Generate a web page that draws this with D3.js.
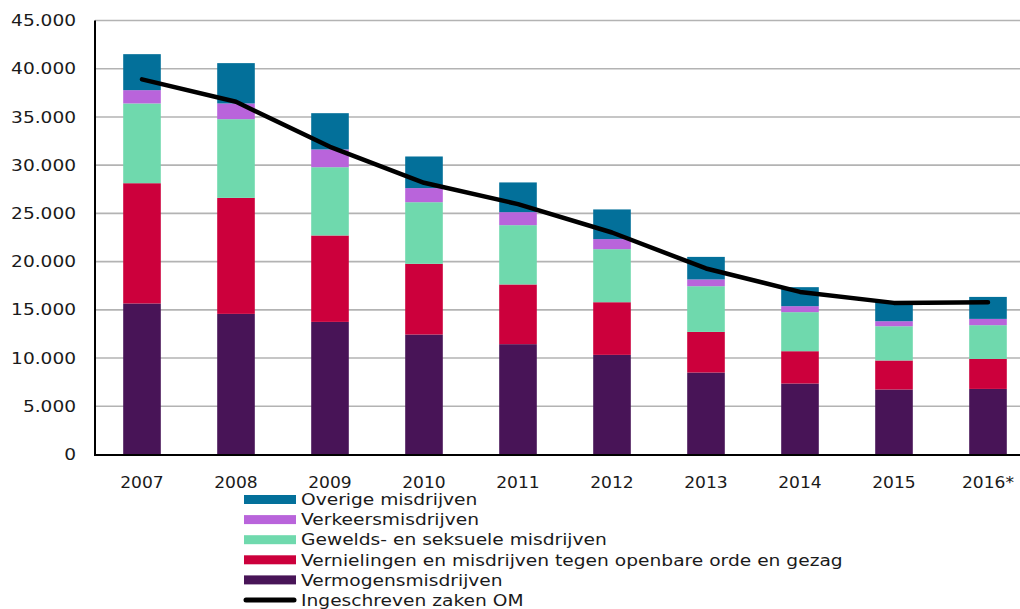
<!DOCTYPE html>
<html>
<head>
<meta charset="utf-8">
<script src="https://cdn.jsdelivr.net/npm/d3@7"></script>
<style>
  body { margin: 0; background: #fff; }
  svg { display: block; font-family: "DejaVu Sans", Verdana, sans-serif; }
</style>
</head>
<body>
<svg id="chart" width="1020" height="609"></svg>
<script>
// jaren (categorieen)
const years = ['2007', '2008', '2009', '2010', '2011', '2012', '2013', '2014', '2015', '2016*']

// series
const vermogens = [15660, 14580, 13750, 12440, 11440, 10330, 8500, 7360, 6740, 6800]
const vernielingen = [12470, 12030, 8960, 7330, 6190, 5460, 4210, 3350, 3010, 3110]
const gewelds = [8270, 8160, 7080, 6390, 6150, 5500, 4740, 4050, 3550, 3500]
const verkeers = [1380, 1630, 1840, 1460, 1350, 1040, 700, 620, 520, 650]
const overige = [3730, 4180, 3760, 3280, 3080, 3080, 2340, 1970, 2080, 2280]
const ingeschreven = [38900, 36570, 31900, 28170, 25960, 23020, 19290, 16860, 15720, 15790]

const yTicks = [0, 5000, 10000, 15000, 20000, 25000, 30000, 35000, 40000, 45000]

const seriesNames = ['Vermogensmisdrijven', 'Vernielingen en misdrijven tegen openbare orde en gezag',
    'Gewelds- en seksuele misdrijven', 'Verkeersmisdrijven', 'Overige misdrijven']
const seriesColors = ['#481457', '#cc003c', '#6fd9ad', '#b964db', '#03709a']
const lineName = 'Ingeschreven zaken OM'

const svg = d3.select('#chart')

const plotLeft = 95, plotRight = 1035, plotTop = 20.5, plotBottom = 454.5

let x = d3.scaleBand().domain(years).range([plotLeft, plotRight]).paddingInner(0.6).paddingOuter(0.3)
let y = d3.scaleLinear().domain([0, 45000]).range([plotBottom, plotTop])

// tabel voor d3.stack
let rows = years.map(function (yr, i) {
    return { year: yr, s0: vermogens[i], s1: vernielingen[i], s2: gewelds[i], s3: verkeers[i], s4: overige[i] }
})
let stacked = d3.stack().keys(['s0', 's1', 's2', 's3', 's4'])(rows)

// gridlijnen
svg.append('g')
    .selectAll('line')
    .data(yTicks.slice(1))
    .join('line')
    .attr('x1', plotLeft).attr('x2', 1020)
    .attr('y1', d => y(d)).attr('y2', d => y(d))
    .style('stroke', '#b3b3b3')
    .attr('stroke-width', 1.6)

// y as labels (tekst in het origineel is breed, vandaar scale)
let fmt = d3.formatLocale({ decimal: ',', thousands: '.', grouping: [3], currency: ['€', ''] }).format(',')
svg.append('g')
    .selectAll('text')
    .data(yTicks)
    .join('text')
    .attr('transform', d => 'translate(76,' + y(d) + ') scale(1.16,1)')
    .attr('dy', '0.35em')
    .attr('text-anchor', 'end')
    .style('font-size', '16px')
    .style('fill', '#1a1a1a')
    .text(d => fmt(d))

// gestapelde staven
svg.append('g')
    .selectAll('g')
    .data(stacked)
    .join('g')
    .style('fill', (d, i) => seriesColors[i])
    .selectAll('rect')
    .data(d => d)
    .join('rect')
    .attr('x', d => x(d.data.year))
    .attr('width', x.bandwidth())
    .attr('y', d => y(d[1]))
    .attr('height', d => y(d[0]) - y(d[1]))

// assen
svg.append('line')
    .attr('x1', plotLeft).attr('x2', plotLeft)
    .attr('y1', plotTop).attr('y2', plotBottom + 1)
    .style('stroke', '#000').attr('stroke-width', 2)
svg.append('line')
    .attr('x1', plotLeft - 1).attr('x2', 1020)
    .attr('y1', plotBottom + 0.5).attr('y2', plotBottom + 0.5)
    .style('stroke', '#000').attr('stroke-width', 2)

// x labels
svg.append('g')
    .selectAll('text')
    .data(years)
    .join('text')
    .attr('transform', d => 'translate(' + (x(d) + x.bandwidth() / 2) + ',482) scale(1.07,1)')
    .attr('dy', '0.35em')
    .attr('text-anchor', 'middle')
    .style('font-size', '16px')
    .style('fill', '#1a1a1a')
    .text(d => d)

// lijn ingeschreven zaken
let lineGenerator = d3.line()
    .x((d, i) => x(years[i]) + x.bandwidth() / 2)
    .y(d => y(d))
svg.append('path')
    .attr('d', lineGenerator(ingeschreven))
    .style('fill', 'none')
    .style('stroke', '#000')
    .attr('stroke-width', 4.5)
    .attr('stroke-linecap', 'round')
    .attr('stroke-linejoin', 'round')

// legenda
let legendItems = seriesNames.map((n, i) => ({ name: n, color: seriesColors[i] })).reverse()
legendItems.push({ name: lineName, color: '#000', line: true })

let legend = svg.append('g')
let item = legend.selectAll('g')
    .data(legendItems)
    .join('g')
    .attr('transform', (d, i) => 'translate(0,' + (499.5 + i * 20.1) + ')')

item.filter(d => !d.line).append('rect')
    .attr('x', 244).attr('y', -4.5)
    .attr('width', 52).attr('height', 9)
    .style('fill', d => d.color)
item.filter(d => d.line).append('line')
    .attr('x1', 246).attr('x2', 294)
    .attr('y1', 0).attr('y2', 0)
    .style('stroke', '#000')
    .attr('stroke-width', 5)
    .attr('stroke-linecap', 'round')
item.append('text')
    .attr('transform', 'translate(301,0) scale(1.13,1)')
    .attr('dy', '0.35em')
    .style('font-size', '16.5px')
    .style('fill', '#1a1a1a')
    .text(d => d.name)
</script>
</body>
</html>
